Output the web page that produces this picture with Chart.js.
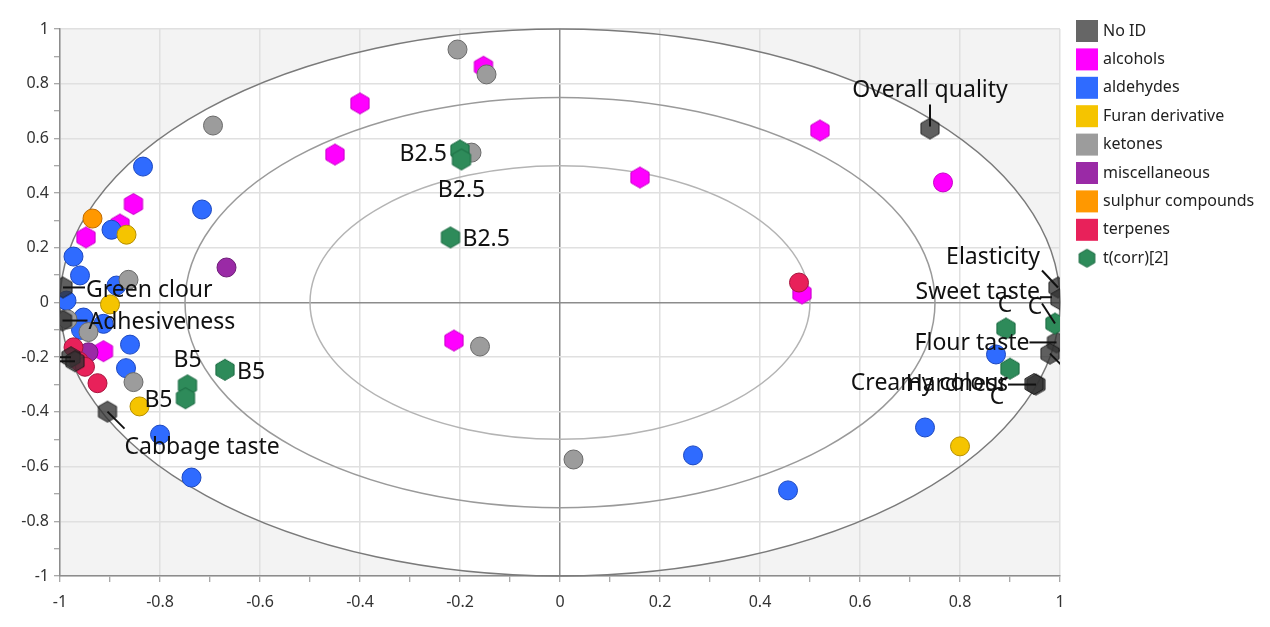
<!DOCTYPE html>
<html lang="en">
<head>
    <meta charset="UTF-8">
    <title>Loadings and scores biplot</title>
    <style>
        body { margin: 0; background: white; }
        #wrap { width: 1270px; height: 627px; }
    </style>
</head>
<body>
    <div id="wrap"><canvas id="myChart" width="1270" height="627"></canvas></div>

    <script src="https://cdn.jsdelivr.net/npm/chart.js"></script>
    <script>
        // ---- data: [x, y] ----
        const tcorr = [
            [-0.67, -0.246], [-0.745, -0.303], [-0.749, -0.35],
            [-0.2, 0.556], [-0.197, 0.523], [-0.219, 0.238],
            [0.892, -0.095], [0.99, -0.077], [0.9, -0.242]
        ];
        const tcorrNames = ['B5', 'B5', 'B5', 'B2.5', 'B2.5', 'B2.5', 'C', 'C', 'C'];

        const noId = [
            [0.74, 0.636], [0.996, 0.055], [1.0, 0.012], [0.993, -0.146], [0.98, -0.187],
            [0.952, -0.3], [0.948, -0.298], [-0.905, -0.399], [-0.994, 0.055],
            [-0.995, -0.066], [-0.978, -0.2], [-0.97, -0.215]
        ];
        const noIdNames = ['Overall quality', 'Elasticity', 'Sweet taste', 'Flour taste', '',
            'Hardness', 'Creamy colour', 'Cabbage taste', 'Green clour', 'Adhesiveness', '', ''];

        const terpenes = [[-0.973, -0.164], [-0.962, -0.215], [-0.95, -0.235], [-0.925, -0.295], [0.478, 0.073]];
        const sulphur = [[-0.935, 0.307]];
        const miscellaneous = [[-0.667, 0.128], [-0.943, -0.182]];
        const ketones = [
            [-0.205, 0.925], [-0.147, 0.834], [-0.694, 0.647], [-0.177, 0.548], [-0.863, 0.083],
            [-0.985, -0.062], [-0.943, -0.108], [-0.853, -0.291], [-0.16, -0.161], [0.027, -0.574]
        ];
        const furan = [[-0.867, 0.248], [-0.9, -0.007], [-0.841, -0.38], [0.8, -0.526]];
        const aldehydes = [
            [-0.834, 0.497], [-0.716, 0.34], [-0.897, 0.266], [-0.973, 0.168], [-0.96, 0.099],
            [-0.887, 0.062], [-0.987, 0.007], [-0.953, -0.055], [-0.913, -0.078], [-0.958, -0.1],
            [-0.86, -0.154], [-0.868, -0.24], [-0.8, -0.483], [-0.737, -0.64],
            [0.266, -0.559], [0.456, -0.687], [0.73, -0.457], [0.872, -0.19]
        ];
        const alcoholsCircle = [[0.766, 0.439]];
        const alcoholsHex = [
            [-0.153, 0.862], [-0.4, 0.728], [-0.45, 0.541], [0.52, 0.629], [0.16, 0.457],
            [0.484, 0.033], [-0.212, -0.139], [-0.853, 0.36], [-0.88, 0.285], [-0.948, 0.238],
            [-0.913, -0.178]
        ];

        const legendNames = ['No ID', 'alcohols', 'aldehydes', 'Furan derivative', 'ketones',
            'miscellaneous', 'sulphur compounds', 'terpenes', 't(corr)[2]'];
        const legendColors = ['#666666', '#ff00ff', '#2f6bff', '#f5c400', '#9c9c9c',
            '#9a2aa6', '#ff9800', '#e8215a', '#2e8b5a'];

        const circles = [0.5, 0.75, 1];

        // label placement (pixel offsets from the point), keyed by dataset name + index
        const labelLayout = [
            { set: 'noId', i: 0, dx: 0, dy: -38, align: 'center', line: [0, -24, 0, -2] },
            { set: 'noId', i: 1, dx: -18, dy: -30, align: 'right', line: [-16, -17, 0, 0] },
            { set: 'noId', i: 2, dx: -20, dy: -7, align: 'right', line: [-20, -2, -8, -2] },
            { set: 'noId', i: 3, dx: -27, dy: 1, align: 'right', line: [-27, 0, 0, 0] },
            { set: 'noId', i: 4, line: [0, 0, 14, 14] },
            { set: 'noId', i: 5, dx: -28, dy: 0, align: 'right', line: [-28, 0, 0, 0] },
            { set: 'noId', i: 6, dx: -26, dy: -1, align: 'right' },
            { set: 'noId', i: 7, dx: 17, dy: 36, align: 'left', line: [0, 0, 17, 17] },
            { set: 'noId', i: 8, dx: 23, dy: 3, align: 'left', line: [0, 0, 22, 0] },
            { set: 'noId', i: 9, dx: 26, dy: 2, align: 'left', line: [0, 0, 25, 0] },
            { set: 'noId', i: 10, line: [0, 0, -20, 0] },
            { set: 'noId', i: 11, line: [0, 0, -20, 0] },
            { set: 'tcorr', i: 0, dx: 12, dy: 3, align: 'left' },
            { set: 'tcorr', i: 1, dx: 0, dy: -25, align: 'center' },
            { set: 'tcorr', i: 2, dx: -13, dy: 2, align: 'right' },
            { set: 'tcorr', i: 3, dx: -13, dy: 4, align: 'right' },
            { set: 'tcorr', i: 4, dx: 0, dy: 31, align: 'center' },
            { set: 'tcorr', i: 5, dx: 12, dy: 2, align: 'left' },
            { set: 'tcorr', i: 6, dx: -1, dy: -23, align: 'center' },
            { set: 'tcorr', i: 7, dx: -20, dy: -16, align: 'center', line: [-13, -20, 0, 0] },
            { set: 'tcorr', i: 8, dx: -13, dy: 29, align: 'center' }
        ];

        const FONT = '"Noto Sans", "Open Sans", sans-serif';

        function toXY(arr) {
            return arr.map(p => ({ x: p[0], y: p[1] }));
        }

        // pointy-top hexagon as a point style image
        function hexImage(fill, stroke, r) {
            const s = Math.ceil(r * 2 + 3);
            const c = document.createElement('canvas');
            c.width = s;
            c.height = s;
            const g = c.getContext('2d');
            g.beginPath();
            for (let k = 0; k < 6; k++) {
                const a = Math.PI / 180 * (60 * k - 90);
                g.lineTo(s / 2 + r * Math.cos(a), s / 2 + r * Math.sin(a));
            }
            g.closePath();
            g.fillStyle = fill;
            g.fill();
            g.lineWidth = 1;
            g.strokeStyle = stroke;
            g.stroke();
            return c;
        }

        const hexGreen = hexImage('#2e8b5a', '#1c6a42', 10.5);
        const hexDark = hexImage('rgba(50,50,50,0.78)', 'rgba(20,20,20,0.8)', 10.5);
        const hexMagenta = hexImage('#ff00ff', '#c800c8', 10.5);
        const hexLegend = hexImage('#2e8b5a', '#1c6a42', 9);

        function circleSet(name, data, fill, stroke) {
            return {
                label: name, data: toXY(data), pointStyle: 'circle', pointRadius: 9.5,
                backgroundColor: fill, borderColor: stroke, borderWidth: 1, clip: 0
            };
        }
        function hexSet(name, data, img) {
            return { label: name, data: toXY(data), pointStyle: img, pointRadius: 10, clip: 0 };
        }

        // dataset 0 is drawn on top
        const datasets = [
            hexSet('tcorr', tcorr, hexGreen),
            hexSet('noId', noId, hexDark),
            circleSet('terpenes', terpenes, '#e8215a', '#a8153f'),
            circleSet('sulphur', sulphur, '#ff9800', '#c06a00'),
            circleSet('miscellaneous', miscellaneous, '#9a2aa6', '#6e1d78'),
            circleSet('ketones', ketones, '#9c9c9c', '#6a6a6a'),
            circleSet('furan', furan, '#f5c400', '#b68f00'),
            circleSet('aldehydes', aldehydes, '#2f6bff', '#1c48c0'),
            circleSet('alcoholsCircle', alcoholsCircle, '#ff00ff', '#c800c8'),
            hexSet('alcoholsHex', alcoholsHex, hexMagenta)
        ];
        const labelText = { noId: noIdNames, tcorr: tcorrNames };

        // grey outside the unit ellipse, white inside
        const backdrop = {
            id: 'backdrop',
            beforeDraw(chart) {
                const { ctx, chartArea: a, scales: { x, y } } = chart;
                ctx.save();
                ctx.fillStyle = '#f3f3f3';
                ctx.fillRect(a.left, a.top, a.width, a.height);
                const cx = x.getPixelForValue(0), cy = y.getPixelForValue(0);
                ctx.beginPath();
                ctx.ellipse(cx, cy, x.getPixelForValue(1) - cx, cy - y.getPixelForValue(1), 0, 0, 2 * Math.PI);
                ctx.fillStyle = 'white';
                ctx.fill();
                ctx.restore();
            },
            beforeDatasetsDraw(chart) {
                const { ctx, scales: { x, y } } = chart;
                const cx = x.getPixelForValue(0), cy = y.getPixelForValue(0);
                ctx.save();
                circles.forEach(r => {
                    ctx.beginPath();
                    ctx.ellipse(cx, cy, x.getPixelForValue(r) - cx, cy - y.getPixelForValue(r), 0, 0, 2 * Math.PI);
                    ctx.strokeStyle = r === 1 ? '#7a7a7a' : (r === 0.75 ? '#9a9a9a' : '#b4b4b4');
                    ctx.lineWidth = 1.5;
                    ctx.stroke();
                });
                ctx.restore();
            }
        };

        // text labels with leader lines
        const pointLabels = {
            id: 'pointLabels',
            afterDatasetsDraw(chart) {
                const { ctx, chartArea: a } = chart;
                ctx.save();
                ctx.beginPath();
                ctx.rect(a.left, a.top, a.width, a.height);
                ctx.clip();
                ctx.font = '23px ' + FONT;
                ctx.fillStyle = '#111';
                ctx.strokeStyle = '#111';
                ctx.lineWidth = 2;
                ctx.textBaseline = 'middle';
                labelLayout.forEach(l => {
                    const idx = datasets.findIndex(d => d.label === l.set);
                    const el = chart.getDatasetMeta(idx).data[l.i];
                    if (!el) return;
                    if (l.line) {
                        ctx.beginPath();
                        ctx.moveTo(el.x + l.line[0], el.y + l.line[1]);
                        ctx.lineTo(el.x + l.line[2], el.y + l.line[3]);
                        ctx.stroke();
                    }
                    const text = labelText[l.set][l.i];
                    if (text) {
                        ctx.textAlign = l.align;
                        ctx.fillText(text, el.x + l.dx, el.y + l.dy);
                    }
                });
                ctx.restore();
            }
        };

        const sideLegend = {
            id: 'sideLegend',
            afterDraw(chart) {
                const { ctx } = chart;
                ctx.save();
                ctx.font = '16px ' + FONT;
                ctx.textBaseline = 'middle';
                ctx.textAlign = 'left';
                legendNames.forEach((name, i) => {
                    const cy = 31 + i * 28.4;
                    if (i < legendNames.length - 1) {
                        ctx.fillStyle = legendColors[i];
                        ctx.fillRect(1076, cy - 11, 22, 22);
                    } else {
                        ctx.drawImage(hexLegend, 1087 - hexLegend.width / 2, cy - hexLegend.height / 2);
                    }
                    ctx.fillStyle = '#222';
                    ctx.fillText(name, 1103, cy);
                });
                ctx.restore();
            }
        };

        function isMajor(v) {
            return Math.abs(Math.round(v * 10)) % 2 === 0;
        }
        function gridColor(c) {
            const v = c.tick.value;
            if (Math.abs(v) < 1e-9) return '#8c8c8c';
            return isMajor(v) ? '#e0e0e0' : 'rgba(0,0,0,0)';
        }

        function axis(isX) {
            return {
                type: 'linear',
                min: -1,
                max: 1,
                afterFit(scale) {
                    if (isX) scale.height = 51; else scale.width = 60;
                },
                ticks: {
                    stepSize: 0.1,
                    autoSkip: false,
                    maxRotation: 0,
                    padding: isX ? 11 : 5,
                    color: '#333',
                    font: { family: FONT, size: 16 },
                    callback: v => isMajor(v) ? String(Math.round(v * 10) / 10) : ''
                },
                grid: {
                    color: gridColor,
                    lineWidth: 1.5,
                    tickLength: 6,
                    tickColor: '#8c8c8c',
                    tickWidth: 1
                },
                border: { display: true, color: '#8c8c8c', width: 1.5 }
            };
        }

        new Chart(document.getElementById('myChart').getContext('2d'), {
            type: 'scatter',
            data: { datasets: datasets },
            options: {
                responsive: false,
                animation: false,
                layout: { padding: { top: 29, right: 210, bottom: 0, left: 0 } },
                scales: { x: axis(true), y: axis(false) },
                plugins: {
                    legend: { display: false },
                    tooltip: { enabled: false }
                }
            },
            plugins: [backdrop, pointLabels, sideLegend]
        });
    </script>
</body>
</html>
